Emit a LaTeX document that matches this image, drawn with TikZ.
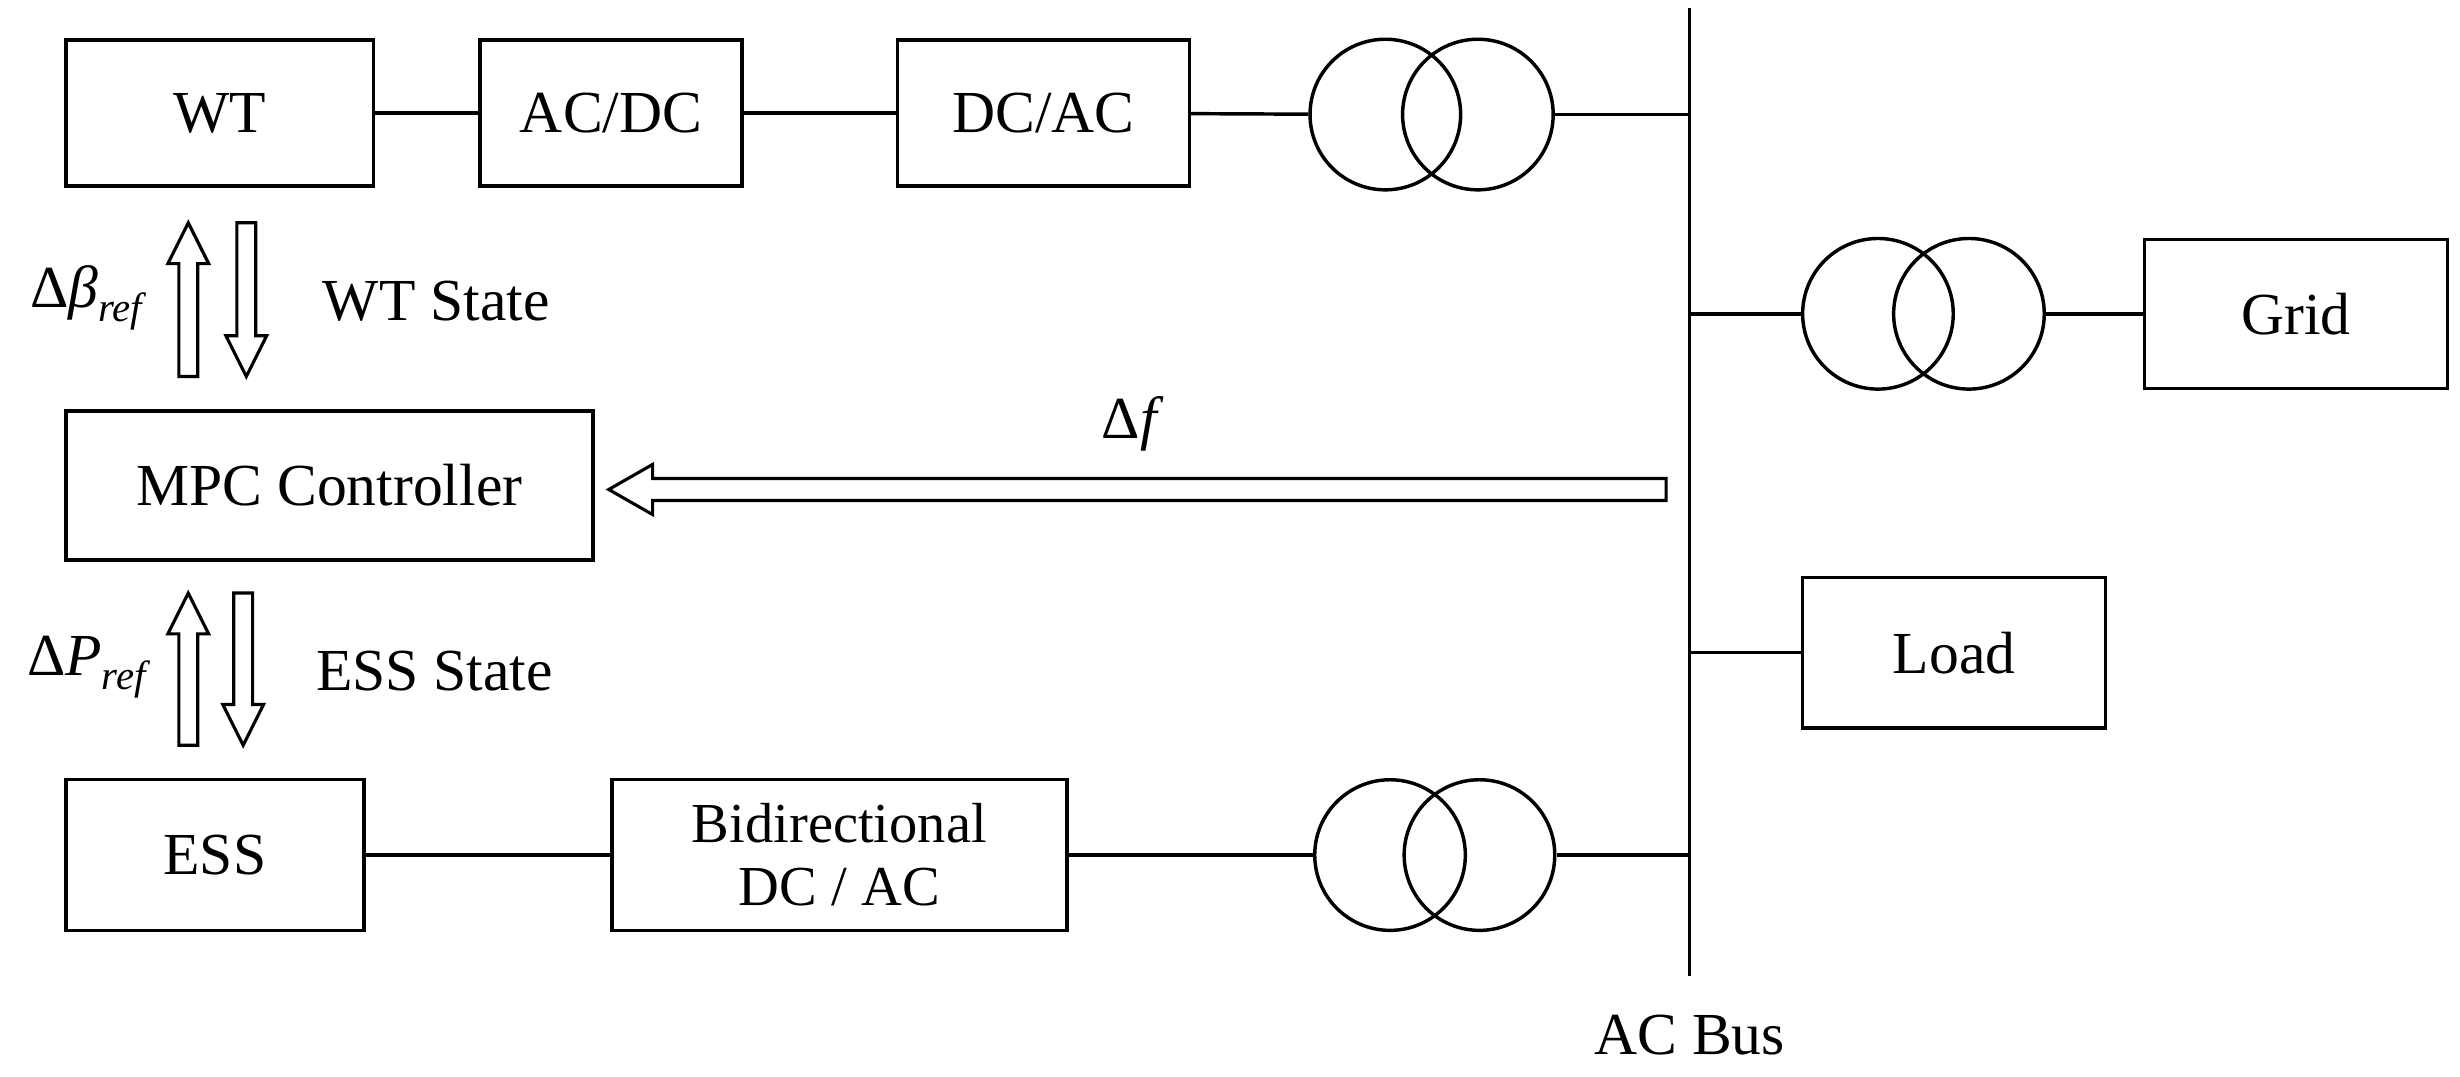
\documentclass[tikz,border=0pt]{standalone}
\usepackage{fontspec}
\setmainfont{Liberation Serif}
\newcommand{\mysub}[1]{\raisebox{-9pt}{\fontsize{26}{28}\selectfont\itshape #1}}
\begin{document}
\begin{tikzpicture}[x=1pt,y=-1pt,line width=2.2pt,
  box/.style={draw,minimum height=93pt,inner sep=0pt,font=\fontsize{38}{42}\selectfont},
  tr/.style={draw,circle,minimum size=96pt,inner sep=0pt},
  lbl/.style={font=\fontsize{38}{42}\selectfont},
  hol/.style={draw,line width=2pt,fill=white}]
\useasboundingbox (0,0) rectangle (1568,686);
\node[box,minimum width=196pt] (wt) at (140,72) {WT};
\node[box,minimum width=167pt] (acdc) at (389.5,72) {AC/DC};
\node[box,minimum width=186pt] (dcac) at (665,72) {DC/AC};
\node[tr] (t1a) at (883,73) {};
\node[tr] (t1b) at (942,73) {};
\coordinate (bt) at (1077,5);
\coordinate (bb) at (1077,622);
\draw (bt) -- (bb);
\node[lbl] (acbus) at (1077,660) {AC Bus};
\draw (wt) -- (acdc); \draw (acdc) -- (dcac); \draw (dcac) -- (t1a);
\draw (t1b) -- (t1b -| bt);
\node[tr] (t2a) at (1197,200) {};
\node[tr] (t2b) at (1255,200) {};
\node[box,minimum width=193pt,minimum height=95pt] (grid) at (1463.5,200) {Grid};
\draw (t2a -| bt) -- (t2a); \draw (t2b) -- (grid);
\node[box,minimum width=193pt,minimum height=96pt] (load) at (1245.5,416) {Load};
\draw (load -| bt) -- (load);
\node[box,minimum width=190pt,minimum height=96pt] (ess) at (137,545) {ESS};
\node[box,minimum width=290pt,minimum height=96pt,align=center,font=\fontsize{36}{40}\selectfont] (bdc) at (535,545) {Bidirectional\\DC / AC};
\node[tr] (t3a) at (886,545) {};
\node[tr] (t3b) at (943,545) {};
\draw (ess) -- (bdc); \draw (bdc) -- (t3a); \draw (t3b) -- (t3b -| bt);
\node[box,minimum width=336pt,minimum height=95pt] (mpc) at (210,309.5) {MPC Controller};
% hollow arrows
\draw[hol] (114,240)--(114,168)--(107,168)--(120,142)--(133,168)--(126,168)--(126,240)--cycle;
\draw[hol] (151,142)--(151,214)--(144,214)--(157,240)--(170,214)--(163,214)--(163,142)--cycle;
\draw[hol] (114,475)--(114,404)--(107,404)--(120,378)--(133,404)--(126,404)--(126,475)--cycle;
\draw[hol] (149,378)--(149,449)--(142,449)--(155,475)--(168,449)--(161,449)--(161,378)--cycle;
\draw[hol] (1062,305)--(416,305)--(416,296)--(388,312)--(416,328)--(416,319)--(1062,319)--cycle;
\node[lbl] (db) at (55,190) {Δ\textit{β}\mysub{ref}};
\node[lbl] (wts) at (278,192) {WT State};
\node[lbl] (dp) at (55,425) {Δ\textit{P}\mysub{ref}};
\node[lbl] (esss) at (277,428) {ESS State};
\node[lbl] (df) at (722,270) {Δ\textit{f}};
\end{tikzpicture}
\end{document}
